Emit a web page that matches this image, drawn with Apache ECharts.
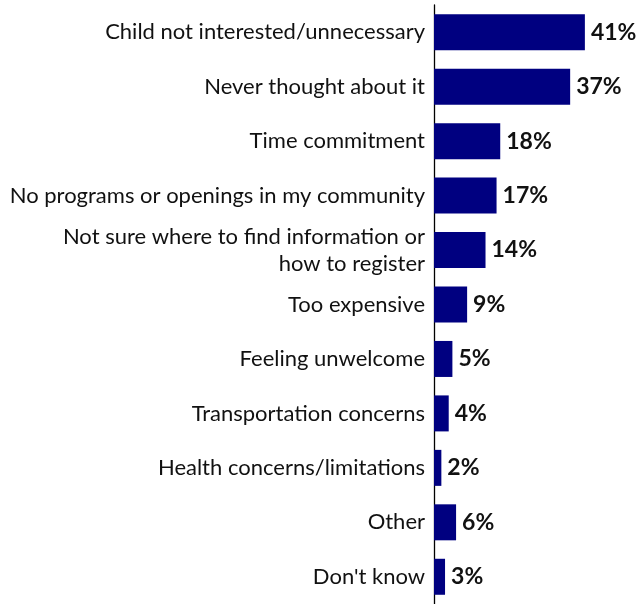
<!DOCTYPE html>
<html>
<head>
<meta charset="utf-8">
<script src="https://cdn.jsdelivr.net/npm/echarts@6/dist/echarts.min.js"></script>
<style>
  html, body { margin: 0; padding: 0; background: #fff; }
  #chart { width: 640px; height: 604px; }
</style>
</head>
<body>
<div id="chart"></div>
<script>
// Reasons for not participating, share of respondents (%)
const categories = [
  'Child not interested/unnecessary',
  'Never thought about it',
  'Time commitment',
  'No programs or openings in my community',
  'Not sure where to find information or\nhow to register',
  'Too expensive',
  'Feeling unwelcome',
  'Transportation concerns',
  'Health concerns/limitations',
  'Other',
  "Don't know"
];
const values = [41, 37, 18, 17, 14, 9, 5, 4, 2, 6, 3];

const chart = echarts.init(document.getElementById('chart'), null, { renderer: 'canvas' });

chart.setOption({
  animation: false,
  grid: { left: 434, top: 5, width: 184, height: 603, containLabel: false },
  xAxis: {
    type: 'value',
    min: 0,
    max: 50,
    show: false
  },
  yAxis: {
    type: 'category',
    data: categories,
    inverse: true,
    axisLine: { show: true, lineStyle: { color: '#000', width: 1.3 } },
    axisTick: { show: false },
    axisLabel: {
      margin: 9,
      fontFamily: 'Lato',
      fontSize: 22,
      color: '#111',
      lineHeight: 27,
      align: 'right'
    }
  },
  series: [{
    type: 'bar',
    data: values,
    barWidth: 36,
    itemStyle: { color: '#000080' },
    label: {
      show: true,
      position: 'right',
      distance: 6,
      formatter: '{c}%',
      fontFamily: 'Lato',
      fontWeight: 'bold',
      fontSize: 23,
      color: '#111'
    }
  }]
});
</script>
</body>
</html>
